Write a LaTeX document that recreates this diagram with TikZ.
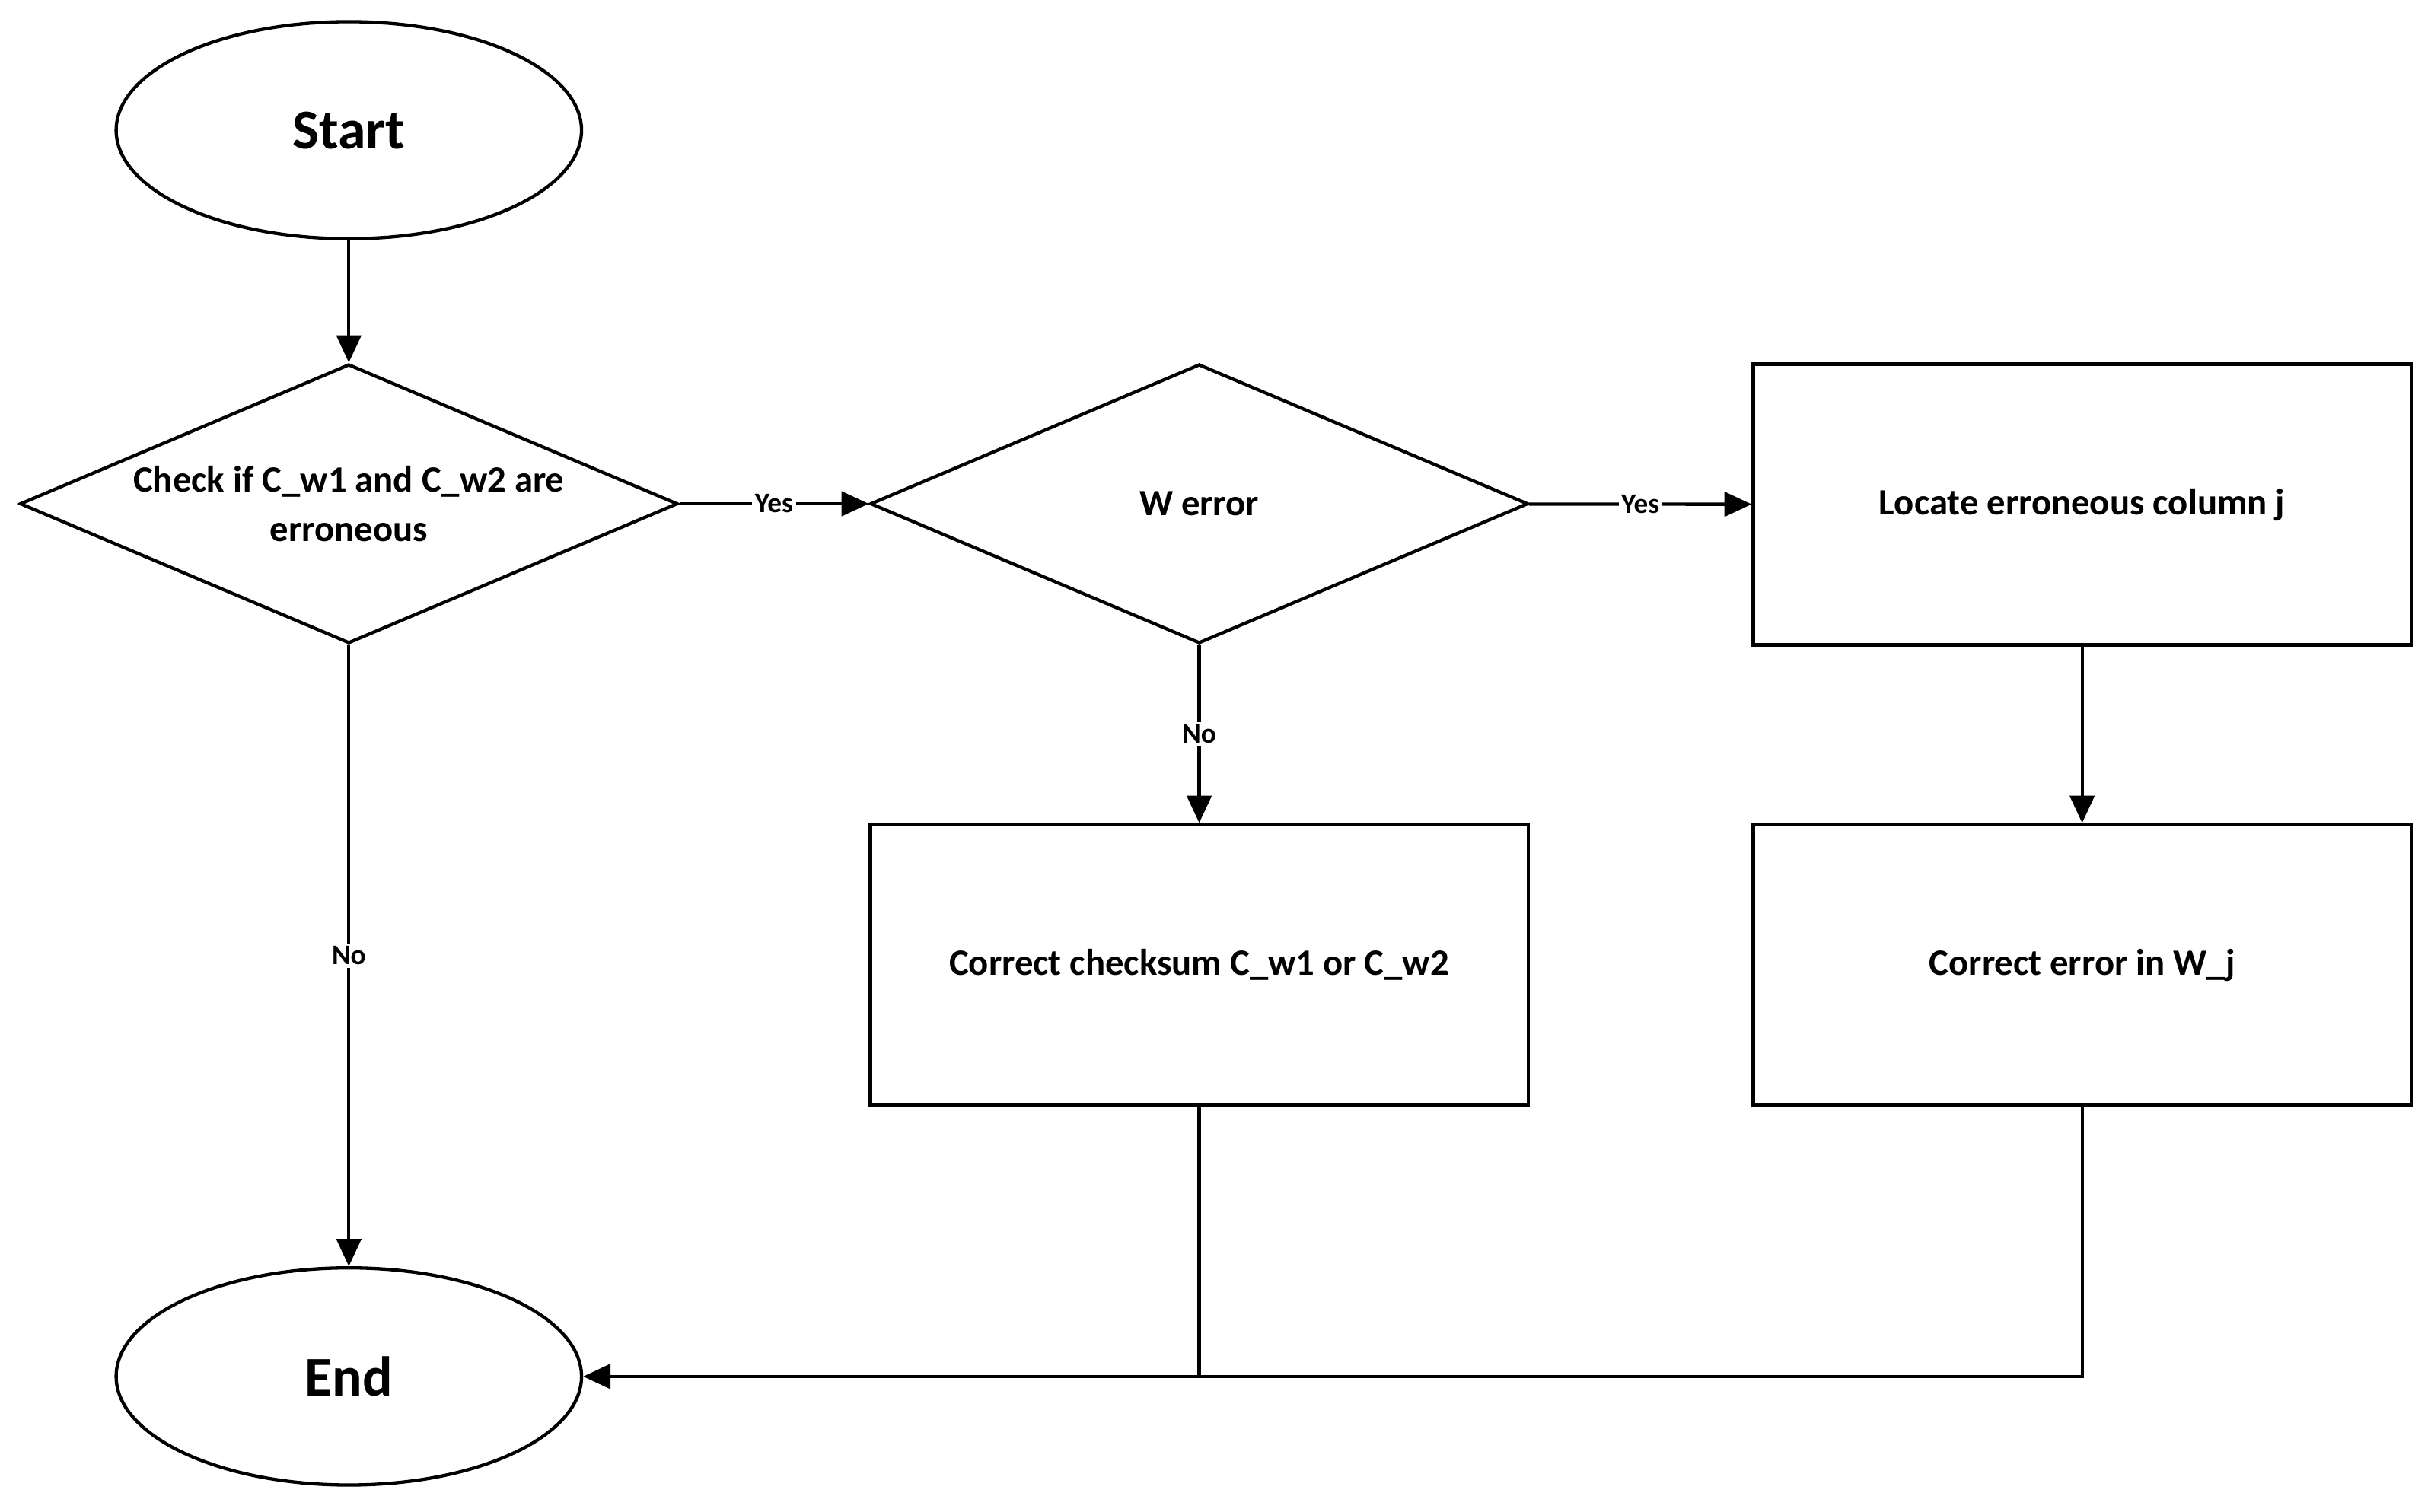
\documentclass[tikz,border=0pt]{standalone}
\usepackage{fontspec}
\setmainfont{Carlito}
\usetikzlibrary{shapes.geometric,arrows.meta}
\begin{document}
\begin{tikzpicture}[x=0.01cm,y=-0.01cm,
  line width=0.6pt,
  arr/.style={-{Triangle[length=5pt,width=4.5pt]}},
  term/.style={draw,ellipse,minimum width=3cm,minimum height=1.4cm,inner sep=0pt,font=\bfseries\fontsize{10.3}{12}\selectfont},
  dec/.style={draw,diamond,aspect=2.35,minimum width=4.24cm,minimum height=1.8cm,inner sep=0pt,align=center,font=\bfseries\fontsize{6.8}{9}\selectfont},
  box/.style={draw,rectangle,minimum width=4.24cm,minimum height=1.81cm,inner sep=0pt,align=center,font=\bfseries\fontsize{6.8}{9}\selectfont},
  lab/.style={fill=white,inner sep=0.5pt,font=\bfseries\fontsize{5.2}{6}\selectfont}]
\useasboundingbox (0,0) rectangle (1568,975);
\node[term] (start) at (225,84) {Start};
\node[term] (end) at (225,888) {End};
\node[dec] (d1) at (225,325) {Check if C\_w1 and C\_w2 are\\erroneous};
\node[dec] (d2) at (773.5,325) {W error};
\node[box] (loc) at (1343,325.5) {Locate erroneous column j};
\node[box] (cc) at (773.5,622.5) {Correct checksum C\_w1 or C\_w2};
\node[box] (ce) at (1343,622.5) {Correct error in W\_j};
\coordinate (m1) at (773.5,888);
\coordinate (m2) at (1343,888);
\draw[arr] (start) -- (d1);
\draw[arr] (d1) -- node[lab]{Yes} (d2);
\draw[arr] (d2) -- node[lab]{Yes} (loc);
\draw[arr] (d2) -- node[lab,pos=0.5]{No} (cc);
\draw[arr] (loc) -- (ce);
\draw[arr] (d1) -- node[lab,pos=0.5]{No} (end);
\draw (cc.south) -- (m1);
\draw[arr] (ce.south) -- (m2) -- (end.east);
\end{tikzpicture}
\end{document}
